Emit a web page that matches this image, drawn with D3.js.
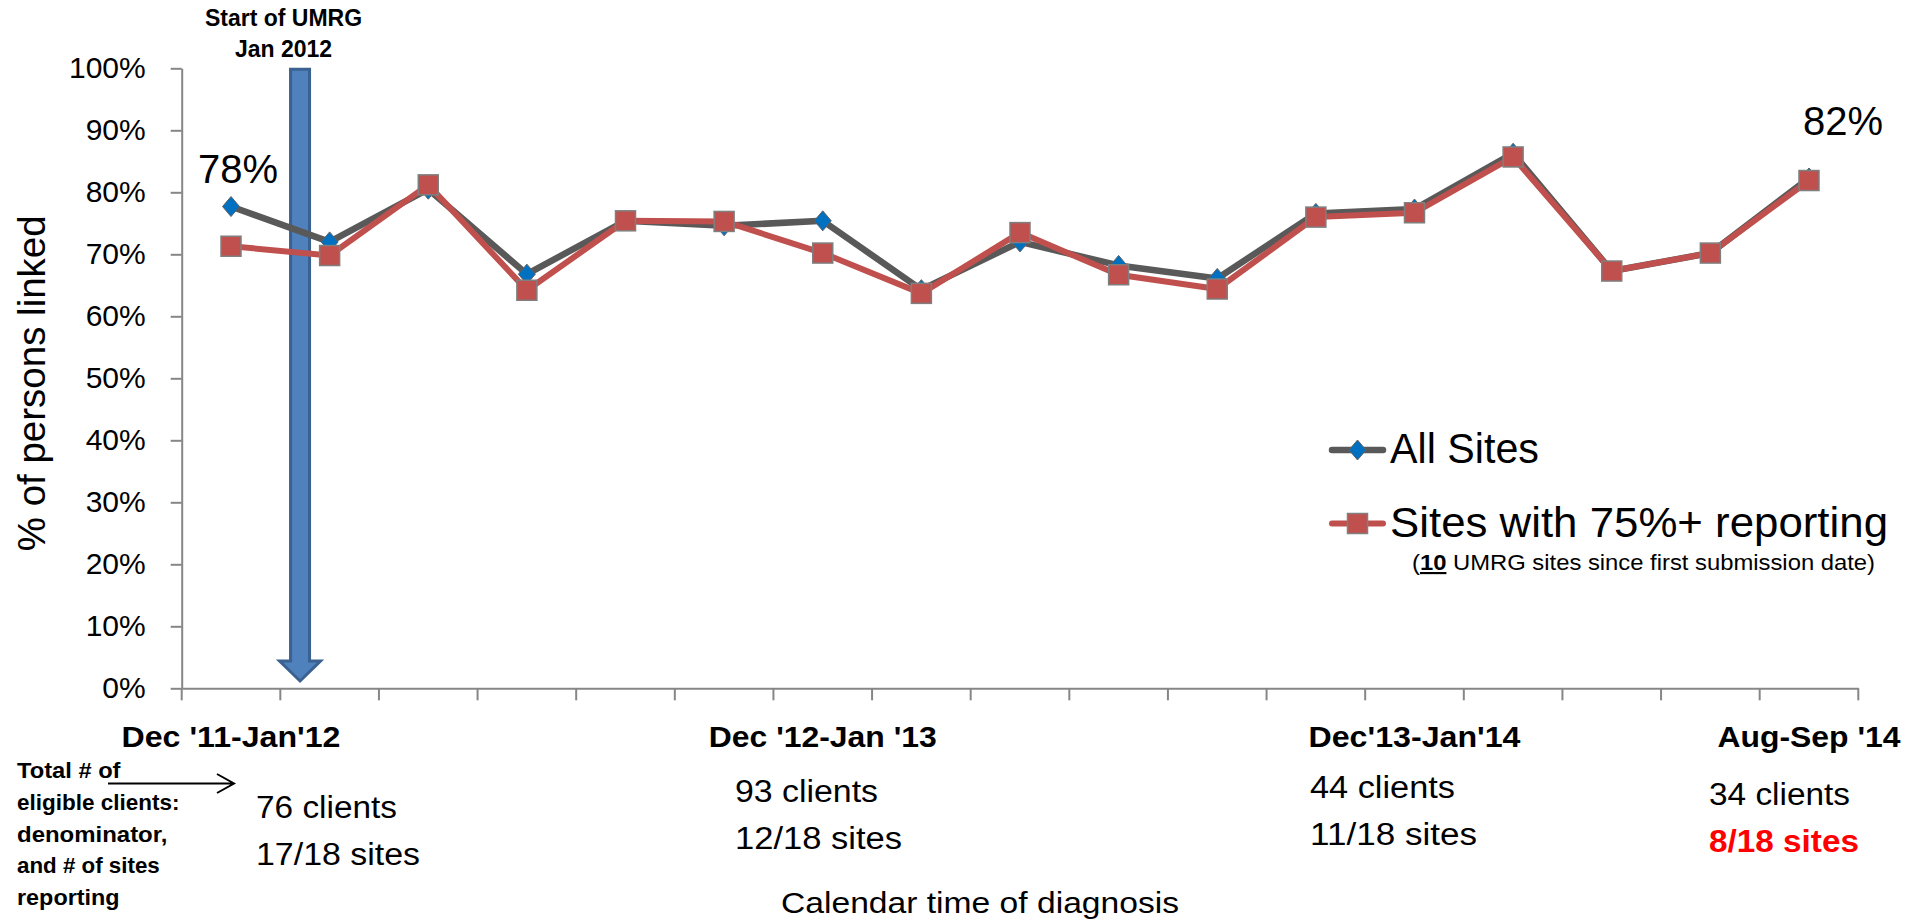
<!DOCTYPE html>
<html>
<head>
<meta charset="utf-8">
<script src="https://cdn.jsdelivr.net/npm/d3@7"></script>
<style>
    body { margin: 0; background: #ffffff; }
    text { font-family: "Liberation Sans", Arial, sans-serif; fill: #000000; }
</style>
<script>
// two-month periods of diagnosis
const categories = ["Dec '11-Jan'12", "Feb-Mar '12", "Apr-May '12", "Jun-Jul '12", "Aug-Sep '12", "Oct-Nov '12",
                    "Dec '12-Jan '13", "Feb-Mar '13", "Apr-May '13", "Jun-Jul '13", "Aug-Sep '13", "Oct-Nov '13",
                    "Dec'13-Jan'14", "Feb-Mar '14", "Apr-May '14", "Jun-Jul '14", "Aug-Sep '14"];

// % of persons linked
const allSites = [77.7, 72.0, 80.5, 66.8, 75.4, 74.6, 75.4, 64.3, 72.0, 68.2, 66.1, 76.6, 77.3, 86.3, 67.3, 70.2, 82.3];
const sites75  = [71.3, 69.8, 81.2, 64.2, 75.4, 75.3, 70.2, 63.7, 73.5, 66.7, 64.4, 76.0, 76.7, 85.7, 67.3, 70.2, 81.9];

const yTicks = [0, 10, 20, 30, 40, 50, 60, 70, 80, 90, 100];

// only these periods get a label under the axis
const labelledIdx  = [0, 6, 12, 16];
const clientCounts = ["76 clients", "93 clients", "44 clients", "34 clients"];
const siteCounts   = ["17/18 sites", "12/18 sites", "11/18 sites", "8/18 sites"];

const seriesNames = ["All Sites", "Sites with 75%+ reporting"];

function makeSVG() {

    const svg = d3.select("#fig");

    const left = 181.7, right = 1858.3, top = 68.3, bottom = 688.3;
    const axisColor = "#868686";
    const grayLine = "#595959";
    const redFill = "#C0504D";

    var x = d3.scaleBand().domain(categories).range([left, right]).padding(0);
    var y = d3.scaleLinear().domain([0, 100]).range([bottom, top]);
    const cx = c => x(c) + x.bandwidth() / 2;

    // y axis
    var yAxis = svg.append("g")
        .attr("transform", "translate(" + left + ",0)")
        .call(d3.axisLeft(y).tickValues(yTicks).tickSize(11).tickSizeOuter(0).tickPadding(25)
                .tickFormat(d => d + "%"));
    yAxis.select(".domain").attr("stroke", axisColor).attr("stroke-width", 2);
    yAxis.selectAll(".tick line").attr("stroke", axisColor).attr("stroke-width", 2);
    yAxis.selectAll(".tick text").attr("font-size", 30).attr("font-family", "Liberation Sans").attr("fill", "#000");

    // x axis line + ticks on the band edges
    var xAxis = svg.append("g")
        .attr("transform", "translate(0," + bottom + ")")
        .call(d3.axisBottom(x).tickSize(0).tickSizeOuter(0).tickFormat(""));
    xAxis.select(".domain").attr("stroke", axisColor).attr("stroke-width", 2);
    xAxis.selectAll(".tick").remove();

    svg.append("g").selectAll("line").data(d3.range(categories.length + 1))
        .enter()
        .append("line")
        .attr("x1", i => left + i * x.step())
        .attr("x2", i => left + i * x.step())
        .attr("y1", bottom)
        .attr("y2", bottom + 12)
        .attr("stroke", axisColor)
        .attr("stroke-width", 2);

    // axis titles
    svg.append("text")
        .attr("transform", "translate(45," + ((top + bottom) / 2 + 5) + ") rotate(-90)")
        .attr("text-anchor", "middle")
        .attr("font-size", 38.5)
        .text("% of persons linked");

    svg.append("text")
        .attr("x", 781).attr("y", 913)
        .attr("font-size", 29)
        .attr("textLength", 398).attr("lengthAdjust", "spacingAndGlyphs")
        .text("Calendar time of diagnosis");

    // category labels (bold) and counts
    const catWidths = [219, 228, 212, 183];
    svg.append("g").selectAll("text").data(labelledIdx)
        .enter()
        .append("text")
        .attr("x", (d, k) => cx(categories[d]) - catWidths[k] / 2)
        .attr("y", 747)
        .attr("font-size", 29)
        .attr("font-weight", "bold")
        .attr("textLength", (d, k) => catWidths[k])
        .attr("lengthAdjust", "spacingAndGlyphs")
        .text(d => categories[d]);

    const countX = [256, 735, 1310, 1709];
    const countY = [818, 802, 798, 805];
    const clientW = [141, 143, 145, 141];
    const siteW = [164, 167, 167, 150];
    svg.append("g").selectAll("text").data(clientCounts)
        .enter()
        .append("text")
        .attr("x", (d, k) => countX[k])
        .attr("y", (d, k) => countY[k])
        .attr("font-size", 31)
        .attr("textLength", (d, k) => clientW[k])
        .attr("lengthAdjust", "spacingAndGlyphs")
        .text(d => d);
    svg.append("g").selectAll("text").data(siteCounts)
        .enter()
        .append("text")
        .attr("x", (d, k) => countX[k])
        .attr("y", (d, k) => countY[k] + 46.5)
        .attr("font-size", 31)
        .attr("font-weight", (d, k) => k == 3 ? "bold" : "normal")
        .style("fill", (d, k) => k == 3 ? "#FF0000" : "#000")
        .attr("textLength", (d, k) => siteW[k])
        .attr("lengthAdjust", "spacingAndGlyphs")
        .text(d => d);

    // left note
    const note = ["Total # of", "eligible clients:", "denominator,", "and # of sites", "reporting"];
    const noteW = [103.5, 162.5, 150.4, 142.8, 102.6];
    svg.append("g").selectAll("text").data(note)
        .enter()
        .append("text")
        .attr("x", 17)
        .attr("y", (d, i) => 778 + i * 31.8)
        .attr("font-size", 21.5)
        .attr("font-weight", "bold")
        .attr("textLength", (d, i) => noteW[i])
        .attr("lengthAdjust", "spacingAndGlyphs")
        .text(d => d);

    svg.append("path")
        .attr("d", "M108,783.5 L234,783.5 M217,774 L234,783.5 L217,793")
        .attr("fill", "none")
        .attr("stroke", "#000")
        .attr("stroke-width", 2);

    // start of UMRG arrow
    const ax = x(categories[1]) + 0.2 * x.step();
    svg.append("path")
        .attr("d", "M" + (ax - 9.5) + "," + (top + 1) + " L" + (ax + 9.5) + "," + (top + 1) +
                   " L" + (ax + 9.5) + ",661 L" + (ax + 20.5) + ",661 L" + ax + ",681" +
                   " L" + (ax - 20.5) + ",661 L" + (ax - 9.5) + ",661 Z")
        .attr("fill", "#4F81BD")
        .attr("stroke", "#3A6190")
        .attr("stroke-width", 3)
        .attr("stroke-linejoin", "miter");

    svg.append("text")
        .attr("x", 283.5).attr("y", 26)
        .attr("text-anchor", "middle")
        .attr("font-size", 23).attr("font-weight", "bold")
        .text("Start of UMRG");
    svg.append("text")
        .attr("x", 283.5).attr("y", 57)
        .attr("text-anchor", "middle")
        .attr("font-size", 23).attr("font-weight", "bold")
        .text("Jan 2012");

    // series lines
    var line = d3.line()
        .x((d, i) => cx(categories[i]))
        .y(d => y(d));

    svg.append("path")
        .datum(allSites)
        .attr("d", line)
        .attr("fill", "none")
        .attr("stroke", grayLine)
        .attr("stroke-width", 6.5)
        .attr("stroke-linejoin", "round");

    const diamond = "M0,-10 L8.5,0 L0,10 L-8.5,0 Z";
    svg.append("g").selectAll("path").data(allSites)
        .enter()
        .append("path")
        .attr("d", diamond)
        .attr("transform", (d, i) => "translate(" + cx(categories[i]) + "," + y(d) + ")")
        .attr("fill", "#0070C0")
        .attr("stroke", "#606060")
        .attr("stroke-width", 1);

    svg.append("path")
        .datum(sites75)
        .attr("d", line)
        .attr("fill", "none")
        .attr("stroke", redFill)
        .attr("stroke-width", 6)
        .attr("stroke-linejoin", "round");

    svg.append("g").selectAll("rect").data(sites75)
        .enter()
        .append("rect")
        .attr("x", (d, i) => cx(categories[i]) - 10)
        .attr("y", d => y(d) - 10)
        .attr("width", 20)
        .attr("height", 20)
        .attr("fill", redFill)
        .attr("stroke", "#7F7F7F")
        .attr("stroke-width", 1.5);

    // data labels first / last
    const last = allSites.length - 1;
    svg.append("text")
        .attr("x", cx(categories[0]) + 7).attr("y", y(allSites[0]) - 23.5)
        .attr("text-anchor", "middle")
        .attr("font-size", 40)
        .text(d3.format(".0f")(allSites[0]) + "%");
    svg.append("text")
        .attr("x", cx(categories[last]) + 34).attr("y", y(allSites[last]) - 43)
        .attr("text-anchor", "middle")
        .attr("font-size", 40)
        .text(d3.format(".0f")(allSites[last]) + "%");

    // legend
    var lg = svg.append("g");
    lg.append("line")
        .attr("x1", 1332).attr("x2", 1383).attr("y1", 450).attr("y2", 450)
        .attr("stroke", grayLine).attr("stroke-width", 6.5).attr("stroke-linecap", "round");
    lg.append("path")
        .attr("d", diamond)
        .attr("transform", "translate(1357.5,450)")
        .attr("fill", "#0070C0").attr("stroke", "#606060").attr("stroke-width", 1);
    lg.append("text")
        .attr("x", 1390).attr("y", 463)
        .attr("font-size", 43)
        .attr("textLength", 149).attr("lengthAdjust", "spacingAndGlyphs")
        .text(seriesNames[0]);

    lg.append("line")
        .attr("x1", 1332).attr("x2", 1383).attr("y1", 523.5).attr("y2", 523.5)
        .attr("stroke", redFill).attr("stroke-width", 6).attr("stroke-linecap", "round");
    lg.append("rect")
        .attr("x", 1347.5).attr("y", 513.5).attr("width", 20).attr("height", 20)
        .attr("fill", redFill).attr("stroke", "#7F7F7F").attr("stroke-width", 1.5);
    lg.append("text")
        .attr("x", 1390).attr("y", 537)
        .attr("font-size", 43)
        .attr("textLength", 498).attr("lengthAdjust", "spacingAndGlyphs")
        .text(seriesNames[1]);

    var sub = lg.append("text")
        .attr("x", 1412).attr("y", 570)
        .attr("font-size", 21.5)
        .attr("textLength", 463).attr("lengthAdjust", "spacingAndGlyphs");
    sub.append("tspan").text("(");
    sub.append("tspan").attr("font-weight", "bold").attr("text-decoration", "underline").text("10");
    sub.append("tspan").text(" UMRG sites since first submission date)");
}
</script>
</head>
<body onload="makeSVG()">
    <svg id="fig" width="1916" height="924" style="background: #ffffff"></svg>
</body>
</html>
